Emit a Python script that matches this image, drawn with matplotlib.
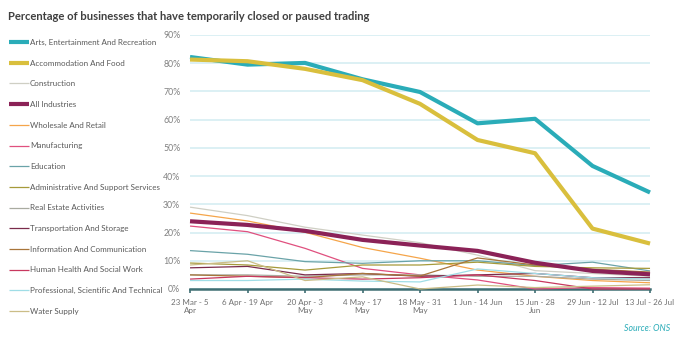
import matplotlib
matplotlib.use("Agg")
import matplotlib.pyplot as plt

plt.rcParams['font.family'] = ['Lato', 'DejaVu Sans']

periods = ["23 Mar - 5\nApr", "6 Apr - 19 Apr", "20 Apr - 3\nMay", "4 May - 17\nMay",
           "18 May - 31\nMay", "1 Jun - 14 Jun", "15 Jun - 28\nJun", "29 Jun - 12 Jul",
           "13 Jul - 26 Jul"]

arts = [82.2, 79.5, 80.1, 74.3, 69.8, 58.7, 60.3, 43.6, 34.2]
accommodation = [81.3, 80.7, 78.0, 74.0, 65.6, 52.8, 48.1, 21.4, 16.1]
construction = [29.0, 26.0, 21.9, 19.1, 16.4, 12.0, 6.5, 5.5, 4.5]
all_industries = [24.0, 22.7, 20.6, 17.4, 15.4, 13.5, 9.3, 6.4, 5.2]
wholesale = [26.9, 24.1, 20.1, 14.7, 10.9, 6.7, 4.5, 3.0, 2.2]
manufacturing = [22.3, 20.3, 14.4, 7.3, 5.0, 3.2, 0.0, 0.5, 0.3]
education = [13.6, 12.3, 9.7, 9.1, 10.0, 10.0, 8.3, 9.5, 6.4]
admin = [9.2, 8.5, 6.7, 8.5, 8.5, 9.5, 8.0, 7.5, 7.3]
real_estate = [5.0, 5.0, 4.5, 5.0, 5.0, 4.5, 4.5, 3.5, 3.0]
transport = [7.5, 8.0, 5.0, 5.5, 4.5, 5.0, 5.5, 4.0, 4.0]
info_comm = [5.0, 4.5, 4.0, 5.5, 4.6, 11.0, 8.5, 7.0, 6.0]
health = [3.5, 4.5, 4.0, 3.5, 4.0, 5.0, 3.0, 0.0, 0.0]
professional = [3.0, 3.0, 3.5, 2.8, 2.5, 7.1, 5.5, 4.0, 3.5]
water = [8.5, 10.0, 3.0, 4.3, 0.0, 1.4, 0.5, 1.0, 1.5]

series = [
    ("Arts, Entertainment And Recreation", arts, "#2aacb8", 3.0),
    ("Accommodation And Food", accommodation, "#d9bf3d", 3.0),
    ("Construction", construction, "#cfcfc4", 0.9),
    ("All Industries", all_industries, "#8b2257", 3.0),
    ("Wholesale And Retail", wholesale, "#f5a54a", 0.9),
    ("Manufacturing", manufacturing, "#e0507f", 0.9),
    ("Education", education, "#6aa3a8", 0.9),
    ("Administrative And Support Services", admin, "#a69a3a", 0.9),
    ("Real Estate Activities", real_estate, "#a9aba0", 0.9),
    ("Transportation And Storage", transport, "#7a2b4a", 0.9),
    ("Information And Communication", info_comm, "#a8753a", 0.9),
    ("Human Health And Social Work", health, "#c8385f", 0.9),
    ("Professional, Scientific And Technical", professional, "#9fdde6", 0.9),
    ("Water Supply", water, "#cbbd87", 0.9),
]

fig = plt.figure(figsize=(6.88, 3.42), dpi=100)
ax = fig.add_axes([0.2762, 0.155, 0.6686, 0.7427])

x = list(range(len(periods)))
handles = []
# thick headline series go on top of the thin ones
for name, vals, color, lw in series:
    z = 5 if lw > 2 else 3
    h, = ax.plot(x, vals, color=color, lw=lw, label=name, zorder=z,
                 solid_capstyle='butt', clip_on=False)
    handles.append(h)

ax.set_xlim(0, len(periods) - 1)
ax.set_ylim(0, 90)
ax.set_yticks(range(0, 91, 10))
ax.set_yticklabels([f"{v}%" for v in range(0, 91, 10)])
ax.set_xticks(x)
ax.set_xticklabels(periods)
ax.grid(axis='y', color='#d5eef2', lw=1.2)
ax.set_axisbelow(True)
for s in ['top', 'right', 'left']:
    ax.spines[s].set_visible(False)
ax.spines['bottom'].set_color('#3f6e73')
ax.spines['bottom'].set_linewidth(1.8)
ax.spines['bottom'].set_zorder(2)
ax.tick_params(axis='y', length=0, pad=7, labelsize=6.3, labelcolor='#808080')
ax.tick_params(axis='x', length=3, width=1.2, color='#3f6e73', pad=4,
               labelsize=5.8, labelcolor='#707070')

fig.text(0.012, 0.952, "Percentage of businesses that have temporarily closed or paused trading",
         fontsize=8.1, fontweight='bold', color='#404040', va='center')
fig.text(0.974, 0.04, "Source: ONS", fontsize=6.3, style='italic',
         color='#2aacb8', ha='right', va='center')

fig.legend(handles=handles, loc='upper left', bbox_to_anchor=(0.008, 0.896),
           frameon=False, fontsize=5.8, labelcolor='#595959', handlelength=2.5,
           handletextpad=0.15, labelspacing=1.70, borderaxespad=0)

fig.savefig("out.png", dpi=100)
